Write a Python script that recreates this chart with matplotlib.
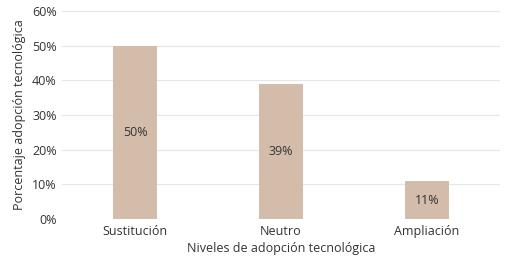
import matplotlib.pyplot as plt
from matplotlib.ticker import PercentFormatter

categories = ['Sustitución', 'Neutro', 'Ampliación']
values = [50, 39, 11]
bar_labels = ['50%', '39%', '11%']

plt.rcParams['font.family'] = ['Open Sans', 'DejaVu Sans']

fig = plt.figure(figsize=(5.1, 2.64), dpi=100)
ax = fig.add_axes([0.122, 0.17, 0.858, 0.788])

x = range(len(categories))
bars = ax.bar(x, values, width=0.3, color='#d4bcab', zorder=2)
for b, lab in zip(bars, bar_labels):
    ax.text(b.get_x() + b.get_width() / 2, b.get_height() / 2, lab,
            ha='center', va='center', fontsize=9, color='#333333')

ax.set_xlim(-0.5, 2.5)
ax.set_ylim(0, 60)
ax.set_yticks(range(0, 61, 10))
ax.yaxis.set_major_formatter(PercentFormatter(decimals=0))
ax.set_xticks(list(x))
ax.set_xticklabels(categories)
ax.grid(axis='y', color='#e6e6e6', linewidth=0.8, zorder=0)
for s in ax.spines.values():
    s.set_visible(False)
ax.tick_params(length=0, labelsize=9, colors='#333333', pad=4)
ax.set_xlabel('Niveles de adopción tecnológica', fontsize=9, color='#333333', labelpad=3)
ax.set_ylabel('Porcentaje adopción tecnológica', fontsize=9, color='#333333', labelpad=4)

fig.savefig('out.png', dpi=100)
